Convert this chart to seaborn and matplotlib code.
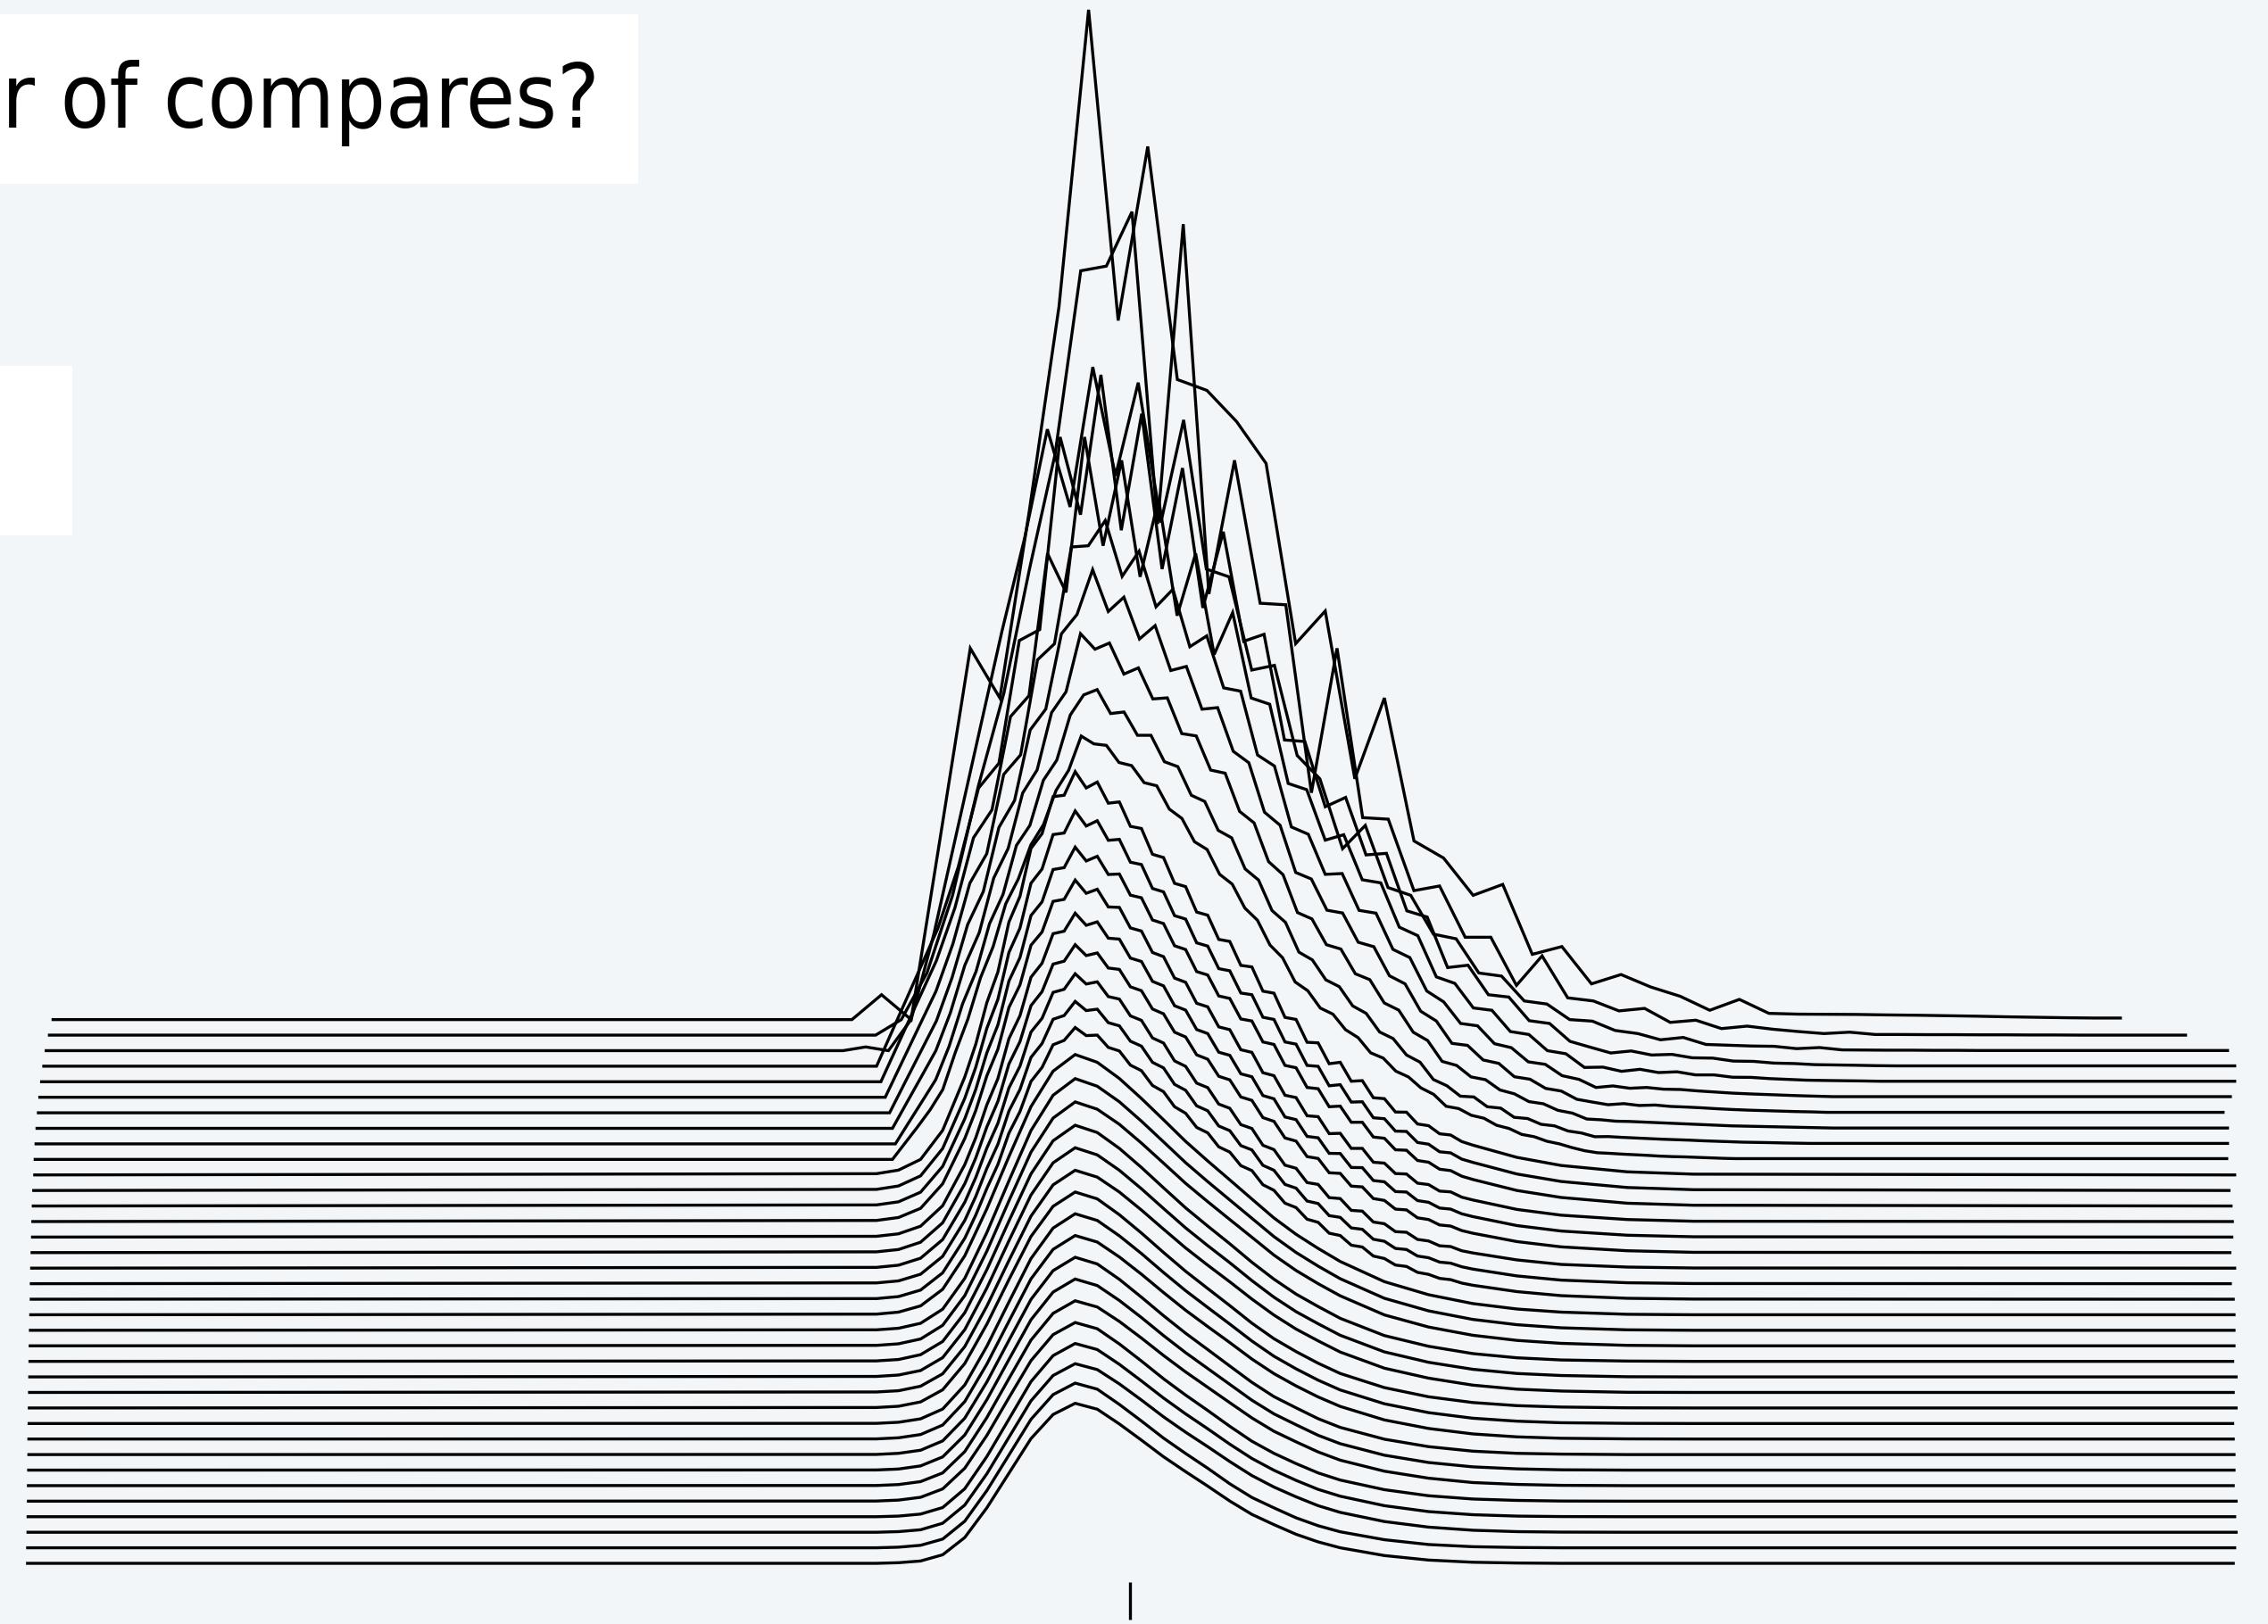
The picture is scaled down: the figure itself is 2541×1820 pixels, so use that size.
import numpy as np
import pandas as pd
import seaborn as sns
import matplotlib.pyplot as plt
from matplotlib.patches import Rectangle

# ---------------- data (x = compares / mean, heights in line-spacing units) ----------------
TITLE_TEXT = "r of compares?"
TICK_POS = [1.0]

LEFT_END = [0.0, 0.0001, 0.0004, 0.0005, 0.0008, 0.0008, 0.0010, 0.0012, 0.0012, 0.0014,
            0.0016, 0.0018, 0.0020, 0.0022, 0.0024, 0.0026, 0.0029, 0.0033, 0.0034, 0.0037,
            0.0041, 0.0045, 0.0048, 0.0052, 0.0056, 0.0065, 0.0069, 0.0077, 0.0086, 0.0098,
            0.0111, 0.0127, 0.0147, 0.0169, 0.0198, 0.0231]
RIGHT_END = [2.0000, 2.0013, 2.0026, 2.0013, 2.0026, 2.0000, 2.0007, 2.0007, 2.0000, 1.9995,
             2.0026, 2.0000, 2.0026, 1.9995, 2.0007, 2.0007, 2.0007, 2.0000, 1.9974, 2.0013,
             1.9969, 1.9987, 1.9992, 1.9980, 1.9961, 2.0013, 1.9941, 1.9948, 1.9948, 1.9908,
             1.9974, 2.0013, 2.0013, 1.9948, 1.9568, 1.8978]

# smooth lower curves (lines 0-16)
GRID_LOW = [0.77, 0.79, 0.81, 0.83, 0.85, 0.87, 0.89, 0.91, 0.93, 0.95, 0.97, 0.99, 1.01, 1.03,
            1.05, 1.07, 1.09, 1.11, 1.13, 1.15, 1.17, 1.19, 1.23, 1.27, 1.31, 1.35, 1.39, 1.45, 1.51]
L0 = [0, .04, .15, .55, 1.66, 3.57, 5.80, 8.03, 9.58, 10.3, 9.92, 8.97, 7.93, 6.86, 5.90, 4.97, 4.01, 3.15, 2.49, 1.87, 1.38, 1.00, .50, .21, .07, .02, 0, 0, 0]
L1 = [0, .04, .16, .56, 1.71, 3.68, 5.97, 8.27, 9.86, 10.6, 10.21, 9.23, 8.16, 7.06, 6.07, 5.12, 4.12, 3.24, 2.57, 1.93, 1.42, 1.03, .52, .21, .07, .02, 0, 0, 0]
L2 = [0, .04, .16, .58, 1.75, 3.76, 6.11, 8.46, 10.09, 10.85, 10.47, 9.55, 8.51, 7.43, 6.44, 5.51, 4.55, 3.65, 2.91, 2.28, 1.71, 1.28, .69, .33, .13, .04, .01, 0, 0]
L3 = [0, .04, .17, .59, 1.80, 3.87, 6.28, 8.70, 10.37, 11.15, 10.76, 9.81, 8.74, 7.64, 6.62, 5.66, 4.67, 3.75, 2.99, 2.34, 1.76, 1.32, .71, .33, .13, .04, .01, 0, 0]
L4 = [.01, .07, .25, .79, 2.12, 4.23, 6.66, 9.05, 10.72, 11.5, 11.10, 10.12, 9.02, 7.88, 6.83, 5.84, 4.82, 3.86, 3.08, 2.42, 1.82, 1.36, .74, .35, .14, .05, .01, 0, 0]
L5 = [.01, .07, .26, .82, 2.19, 4.38, 6.89, 9.37, 11.09, 11.9, 11.50, 10.57, 9.50, 8.38, 7.32, 6.33, 5.34, 4.36, 3.50, 2.82, 2.17, 1.64, .93, .48, .20, .08, .02, 0, 0]
L6 = [.01, .07, .27, .85, 2.26, 4.53, 7.12, 9.68, 11.46, 12.3, 11.88, 10.92, 9.82, 8.66, 7.56, 6.54, 5.52, 4.50, 3.62, 2.92, 2.24, 1.70, .96, .49, .21, .08, .02, 0, 0]
L7 = [.01, .08, .28, .88, 2.34, 4.67, 7.35, 9.99, 11.84, 12.7, 12.27, 11.28, 10.13, 8.94, 7.81, 6.76, 5.70, 4.65, 3.73, 3.01, 2.31, 1.75, .99, .51, .22, .08, .03, 0, 0]
L8 = [.01, .08, .29, .90, 2.41, 4.82, 7.58, 10.31, 12.21, 13.1, 12.68, 11.72, 10.61, 9.43, 8.29, 7.24, 6.21, 5.15, 4.21, 3.42, 2.71, 2.10, 1.23, .68, .33, .14, .05, .01, 0]
L9 = [.01, .08, .30, .93, 2.48, 4.97, 7.82, 10.62, 12.58, 13.5, 13.07, 12.08, 10.94, 9.72, 8.55, 7.47, 6.40, 5.31, 4.33, 3.52, 2.79, 2.16, 1.27, .70, .34, .15, .05, .01, 0]
L10 = [.03, .11, .39, 1.17, 2.86, 5.39, 8.26, 11.04, 12.98, 13.9, 13.46, 12.44, 11.26, 10.01, 8.80, 7.69, 6.59, 5.46, 4.46, 3.63, 2.88, 2.22, 1.31, .72, .35, .15, .06, .01, 0]
L11 = [.03, .11, .40, 1.20, 2.95, 5.55, 8.49, 11.35, 13.36, 14.3, 13.86, 12.90, 11.74, 10.51, 9.30, 8.19, 7.12, 6.01, 4.98, 4.08, 3.32, 2.60, 1.56, .92, .47, .21, .09, .01, 0]
L12 = [.03, .12, .41, 1.24, 3.04, 5.72, 8.76, 11.71, 13.78, 14.75, 14.29, 13.30, 12.11, 10.84, 9.59, 8.45, 7.35, 6.20, 5.13, 4.20, 3.42, 2.68, 1.61, .94, .49, .22, .09, .01, 0]
L13 = [.03, .12, .43, 1.28, 3.13, 5.90, 9.03, 12.07, 14.20, 15.2, 14.73, 13.71, 12.48, 11.17, 9.88, 8.71, 7.57, 6.38, 5.29, 4.33, 3.53, 2.77, 1.66, .97, .50, .23, .09, .02, 0]
L14 = [.03, .13, .44, 1.32, 3.23, 6.09, 9.33, 12.47, 14.66, 15.7, 15.23, 14.26, 13.05, 11.76, 10.46, 9.28, 8.13, 6.99, 5.84, 4.85, 4.00, 3.22, 1.99, 1.21, .68, .35, .16, .03, 0]
L15 = [.03, .13, .45, 1.36, 3.34, 6.29, 9.62, 12.86, 15.13, 16.2, 15.71, 14.71, 13.46, 12.13, 10.79, 9.57, 8.39, 7.21, 6.03, 5.01, 4.13, 3.32, 2.06, 1.25, .70, .36, .16, .03, 0]
L16 = [.04, .17, .57, 1.64, 3.79, 6.82, 10.18, 13.40, 15.68, 16.75, 16.25, 15.21, 13.92, 12.55, 11.16, 9.90, 8.68, 7.45, 6.23, 5.18, 4.27, 3.43, 2.13, 1.29, .72, .37, .17, .03, 0]
LOW_LINES = [L0, L1, L2, L3, L4, L5, L6, L7, L8, L9, L10, L11, L12, L13, L14, L15, L16]

# slightly ragged middle curves (lines 17-25)
GRID_FINE = [0.77, 0.79, 0.81, 0.83,
             0.85, 0.86, 0.87, 0.88, 0.89, 0.90, 0.91, 0.92, 0.93, 0.94,
             0.95, 0.96, 0.97, 0.98, 0.99, 1.00, 1.01, 1.02, 1.03, 1.04,
             1.05, 1.06, 1.07, 1.08, 1.09, 1.10, 1.11, 1.12, 1.13, 1.14,
             1.15, 1.16, 1.17, 1.18, 1.19, 1.20, 1.21, 1.22, 1.23, 1.24,
             1.25, 1.26, 1.27, 1.28, 1.29, 1.30, 1.31,
             1.35, 1.39, 1.45, 1.51]
F17 = [.04, .17, .59, 1.70, 3.92, 5.42, 7.13, 8.67, 10.69, 12.08, 14.02, 14.92, 16.38, 16.66, 17.49, 16.97, 17.00, 16.21, 15.98, 15.07, 14.71, 13.76, 13.36, 12.39, 11.97, 11.06, 10.71, 9.81, 9.47, 8.60, 8.28, 7.37, 7.01, 6.18, 5.90, 5.15, 4.95, 4.25, 4.10, 3.48, 3.36, 2.78, 2.62, 2.20, 2.11, 1.73, 1.60, 1.34, 1.26, 1.04, 0.90, .49, .23, .06, .01]
F18 = [.05, .18, .61, 1.76, 4.07, 5.62, 7.42, 8.97, 11.11, 12.50, 14.57, 15.46, 17.02, 17.26, 18.17, 17.58, 17.67, 16.80, 16.60, 15.61, 15.29, 14.25, 13.89, 12.83, 12.45, 11.45, 11.13, 10.15, 9.85, 8.89, 8.61, 7.62, 7.30, 6.39, 6.15, 5.32, 5.16, 4.38, 4.27, 3.59, 3.50, 2.86, 2.73, 2.27, 2.20, 1.78, 1.67, 1.39, 1.32, 1.09, 0.94, .50, .23, .06, .01]
F19 = [.05, .19, .64, 1.84, 4.24, 5.84, 7.73, 9.32, 11.60, 13.00, 15.20, 16.08, 17.75, 17.95, 18.95, 18.29, 18.43, 17.48, 17.32, 16.24, 15.95, 14.82, 14.49, 13.34, 12.99, 11.91, 11.62, 10.56, 10.29, 9.24, 8.99, 7.91, 7.63, 6.63, 6.43, 5.51, 5.39, 4.54, 4.48, 3.72, 3.67, 2.97, 2.86, 2.35, 2.31, 1.85, 1.75, 1.44, 1.39, 1.12, 0.98, .53, .24, .07, .01]
F20 = [.05, .20, .67, 1.92, 4.43, 6.10, 8.09, 9.73, 12.14, 13.58, 15.90, 16.80, 18.57, 18.76, 19.82, 19.12, 19.29, 18.32, 18.23, 17.11, 16.86, 15.68, 15.37, 14.19, 13.88, 12.73, 12.45, 11.35, 11.12, 10.02, 9.80, 8.69, 8.45, 7.38, 7.18, 6.18, 6.06, 5.14, 5.10, 4.28, 4.23, 3.48, 3.36, 2.80, 2.75, 2.24, 2.13, 1.78, 1.71, 1.42, 1.25, .71, .37, .12, .02]
F21 = [.05, .21, .70, 2.02, 4.66, 6.40, 8.51, 10.20, 12.77, 14.25, 16.73, 17.63, 19.53, 19.69, 20.85, 20.07, 20.29, 19.24, 19.18, 17.96, 17.74, 16.46, 16.17, 14.89, 14.61, 13.36, 13.10, 11.90, 11.70, 10.51, 10.32, 9.11, 8.90, 7.73, 7.56, 6.48, 6.39, 5.39, 5.38, 4.48, 4.47, 3.64, 3.56, 2.93, 2.90, 2.35, 2.24, 1.87, 1.80, 1.50, 1.32, .74, .39, .12, .02]
F22 = [.07, .26, .85, 2.43, 5.34, 7.15, 9.38, 11.09, 13.78, 15.23, 17.79, 18.64, 20.61, 20.74, 21.98, 21.13, 21.39, 20.25, 20.22, 18.90, 18.70, 17.32, 17.05, 15.67, 15.40, 14.05, 13.82, 12.53, 12.35, 11.06, 10.89, 9.58, 9.39, 8.13, 7.98, 6.81, 6.75, 5.66, 5.68, 4.71, 4.71, 3.82, 3.76, 3.09, 3.06, 2.47, 2.38, 1.96, 1.91, 1.57, 1.39, .78, .41, .13, .02]
F23 = [.07, .27, .89, 2.55, 5.61, 7.51, 9.86, 11.65, 14.48, 15.99, 18.70, 19.58, 21.66, 21.78, 23.10, 22.21, 22.51, 21.34, 21.37, 20.01, 19.84, 18.41, 18.18, 16.75, 16.51, 15.09, 14.87, 13.52, 13.36, 12.04, 11.91, 10.56, 10.40, 9.05, 8.90, 7.63, 7.55, 6.39, 6.43, 5.39, 5.39, 4.44, 4.36, 3.62, 3.59, 2.93, 2.82, 2.37, 2.28, 1.92, 1.71, 1.00, .55, .18, .05]
F24 = [.07, .29, .94, 2.70, 5.93, 7.94, 10.44, 12.30, 15.32, 16.89, 19.78, 20.69, 22.91, 23.01, 24.43, 23.46, 23.80, 22.54, 22.60, 21.13, 20.98, 19.44, 19.22, 17.69, 17.47, 15.94, 15.73, 14.28, 14.14, 12.71, 12.60, 11.15, 11.01, 9.56, 9.42, 8.05, 7.99, 6.74, 6.81, 5.69, 5.71, 4.68, 4.62, 3.82, 3.80, 3.09, 2.98, 2.49, 2.42, 2.02, 1.81, 1.06, .58, .19, .05]
F25 = [.08, .31, 1.00, 2.87, 6.30, 8.42, 11.09, 13.06, 16.28, 17.93, 21.02, 21.97, 24.35, 24.44, 25.96, 24.91, 25.29, 23.93, 24.01, 22.44, 22.30, 20.64, 20.43, 18.77, 18.56, 16.92, 16.72, 15.16, 15.03, 13.49, 13.39, 11.83, 11.70, 10.14, 10.01, 8.54, 8.50, 7.16, 7.25, 6.03, 6.07, 4.97, 4.91, 4.05, 4.04, 3.28, 3.17, 2.65, 2.57, 2.15, 1.92, 1.13, .61, .20, .05]
FINE_LINES = [F17, F18, F19, F20, F21, F22, F23, F24, F25]

# upper (jagged) lines 26-35: first bin position, bin width, bin heights
UP_START = [0.78455, 0.78717, 0.78455, 0.78193, 0.77800, 0.77407, 0.77014, 0.73975, 0.76935, 0.74787]
UP_STEP = [0.011395, 0.012181, 0.013098, 0.014145, 0.015324, 0.016765, 0.018468, 0.020563, 0.023209, 0.026785]
U26 = [0, 1.05, 2.1, 3.2, 4.5, 6.9, 9.05, 11.7, 13.7, 16.45, 18.05, 20.25, 21.55, 23.75, 25.05, 27.25, 26.75, 26.65, 25.55, 25.35, 24.25, 24.05, 22.55, 21.95, 20.45, 19.95, 18.35, 17.72, 16.18, 15.4, 13.8, 12.98, 11.42, 10.86, 9.74, 9.35, 8.35, 7.84, 6.86, 6.52, 5.68, 5.31, 4.6, 4.19, 3.42, 3.27, 2.84, 2.65, 2.2, 1.99, 1.61, 1.46, 1.17, 1.0, 0.76, 0.56, 0.43, 0.39, 0.34, 0.3, 0.26, 0.21, 0.18, 0.16, 0.13, 0.1, 0.07, 0.05]
U27 = [0, 1.38, 2.75, 4.13, 6.29, 9.02, 11.1, 14.17, 16.05, 19.21, 20.5, 23.4, 24.7, 27.6, 28.9, 29.24, 27.7, 27.8, 26.3, 26.3, 24.6, 24.28, 22.44, 22.04, 20.18, 19.7, 17.7, 16.98, 15.02, 14.26, 12.34, 11.84, 10.56, 10.12, 8.88, 8.4, 7.2, 6.78, 5.72, 5.26, 4.14, 3.74, 3.07, 3.02, 2.39, 2.3, 1.71, 1.63, 1.26, 1.16, 0.83, 0.7, 0.46, 0.47, 0.42, 0.38, 0.34, 0.3, 0.27, 0.24, 0.2, 0.17, 0.14, 0.11, 0.095, 0.08, 0.06, 0.045, 0.03]
U28 = [0, 1.67, 3.33, 5.0, 7.43, 10.49, 12.6, 16.11, 18.02, 21.58, 23.07, 26.76, 28.1, 31.84, 30.84, 31.24, 29.24, 29.64, 27.64, 27.71, 25.41, 25.26, 23.06, 22.86, 20.4, 19.66, 17.17, 16.33, 13.89, 13.48, 11.82, 11.54, 9.95, 9.57, 8.07, 7.61, 6.19, 5.65, 4.31, 4.05, 3.31, 3.13, 2.47, 2.22, 1.72, 1.58, 1.16, 0.98, 0.6, 0.55, 0.46, 0.44, 0.4, 0.36, 0.32, 0.28, 0.24, 0.2, 0.16, 0.14, 0.12, 0.1, 0.08, 0.06, 0.04, 0.02]
U29 = [0, 1.98, 3.95, 5.92, 8.7, 12.12, 14.24, 18.37, 20.1, 24.64, 25.99, 30.83, 32.08, 34.96, 32.27, 33.19, 30.5, 31.36, 28.47, 28.73, 25.98, 26.08, 23.27, 22.53, 19.35, 18.51, 15.47, 15.05, 13.04, 12.86, 10.98, 10.69, 8.82, 8.3, 6.54, 5.91, 4.47, 4.34, 3.4, 3.18, 2.32, 2.16, 1.57, 1.4, 0.87, 0.69, 0.52, 0.59, 0.47, 0.5, 0.41, 0.37, 0.32, 0.26, 0.21, 0.17, 0.14, 0.11, 0.08, 0.06, 0.03]
U30 = [0, 2.28, 4.56, 6.83, 9.88, 13.78, 15.68, 20.78, 22.04, 28.16, 29.19, 35.42, 35.5, 37.12, 33.53, 35.15, 31.57, 32.7, 29.0, 29.7, 26.35, 26.14, 22.03, 21.32, 17.4, 16.93, 14.35, 14.4, 12.03, 11.85, 9.52, 8.99, 6.84, 6.14, 4.75, 4.6, 3.45, 3.19, 2.28, 2.12, 1.39, 1.15, 0.63, 0.73, 0.58, 0.63, 0.52, 0.5, 0.41, 0.34, 0.27, 0.22, 0.18, 0.14, 0.1, 0.07, 0.04]
U31 = [0, 2.6, 5.2, 7.8, 11.2, 15.7, 17.5, 23.5, 24.85, 34.0, 31.5, 41.5, 34.5, 40.0, 32.5, 37.5, 30.0, 34.0, 27.5, 30.2, 24.7, 24.3, 19.2, 18.8, 15.55, 15.9, 13.0, 12.8, 9.95, 9.4, 6.75, 6.33, 4.75, 4.6, 3.23, 3.04, 2.0, 1.8, 0.92, 0.94, 0.67, 0.8, 0.59, 0.64, 0.44, 0.44, 0.29, 0.28, 0.2, 0.15, 0.1, 0.08, 0.065, 0.05, 0.03]
U32 = [0, 2.95, 5.9, 8.85, 12.8, 17.9, 19.5, 27.4, 28.1, 40.5, 35.5, 44.5, 34.5, 42.0, 32.0, 38.5, 29.5, 34.4, 27.35, 27.8, 21.0, 20.9, 16.7, 17.3, 13.6, 13.7, 10.0, 9.6, 6.35, 6.5, 4.6, 4.45, 2.93, 2.75, 1.6, 1.22, 0.85, 0.98, 0.72, 0.76, 0.54, 0.52, 0.33, 0.31, 0.2, 0.17, 0.1, 0.08, 0.06, 0.035, 0.02]
U33 = [0, 0.24, 0, 2.0, 7.5, 14.0, 20.5, 27.0, 33.0, 40.0, 35.0, 44.0, 37.0, 43.0, 34.0, 40.6, 31.0, 30.5, 24.5, 24.8, 19.0, 17.5, 13.0, 14.5, 10.5, 10.0, 7.5, 7.2, 5.0, 4.8, 3.2, 3.0, 2.0, 1.9, 1.3, 1.1, 0.7, 0.85, 0.4, 0.35, 0.3, 0.28, 0.13, 0.2, 0.05, 0.04, 0.03, 0.03, 0.02, 0.02, 0.01, 0.01]
U34 = [0, 1.0, 4.0, 9.0, 16.0, 22.0, 30.0, 37.4, 49.2, 49.5, 53.0, 32.9, 52.2, 28.4, 37.0, 27.8, 27.7, 15.6, 24.9, 14.0, 13.9, 9.3, 9.6, 6.3, 6.3, 3.2, 5.1, 2.4, 2.2, 1.56, 1.72, 0.82, 0.96, 0.42, 0.58, 0.38, 0.23, 0.1, 0.19, 0.04, 0.04, 0.03, 0.03, 0.02, 0.02, 0.01, 0.01, 0]
U35 = [0, 1.6, 0, 11.9, 23.9, 20.7, 32.8, 45.9, 65.0, 45.0, 56.2, 41.2, 40.5, 38.5, 35.8, 24.2, 26.3, 15.5, 20.7, 11.5, 10.4, 8.0, 8.7, 4.2, 4.7, 2.3, 2.9, 2.1, 1.5, 0.6, 1.3, 0.4, 0.35, 0.34, 0.33, 0.3, 0.28, 0.25, 0.22, 0.18, 0.15, 0.12, 0.1]
UP_LINES = [U26, U27, U28, U29, U30, U31, U32, U33, U34, U35]

# ---------------- build long table ----------------
rows = []
n_low, n_fine = len(LOW_LINES), len(FINE_LINES)
for i in range(n_low + n_fine + len(UP_LINES)):
    if i < n_low:
        h = LOW_LINES[i]
        xs = [LEFT_END[i]] + GRID_LOW[:len(h)] + [RIGHT_END[i]]
        hs = [0.0] + list(h) + [0.0]
    elif i < n_low + n_fine:
        h = FINE_LINES[i - n_low]
        xs = [LEFT_END[i]] + GRID_FINE[:len(h)] + [RIGHT_END[i]]
        hs = [0.0] + list(h) + [0.0]
    else:
        j = i - n_low - n_fine
        h = UP_LINES[j]
        xs = [LEFT_END[i]] + [UP_START[j] + k * UP_STEP[j] for k in range(len(h))] + [RIGHT_END[i]]
        hs = [0.0] + list(h) + [h[-1]]
    for order, (xv, hv) in enumerate(zip(xs, hs)):
        rows.append({"line": i, "order": order, "x": xv, "y": i + hv})
df = pd.DataFrame(rows)

# ---------------- figure ----------------
BG = "#f2f6f9"
W, H = 2541, 1820
fig = plt.figure(figsize=(W / 100, H / 100), dpi=100, facecolor=BG)
ax = fig.add_axes([0, 47 / H, 1, 1 - 47 / H])
ax.set_facecolor(BG)

sns.lineplot(data=df, x="x", y="y", units="line", estimator=None, sort=False,
             color="black", linewidth=2.4, legend=False, ax=ax)
for ln in ax.lines:
    ln.set_solid_capstyle("butt")
    ln.set_solid_joinstyle("miter")

ax.set_xlim(-0.02358, 2.0301)
ax.set_ylim(-1.206, 100.63)
for s in ax.spines.values():
    s.set_visible(False)
ax.set_xticks(TICK_POS)
ax.set_xticklabels([""])
ax.set_yticks([])
ax.tick_params(axis="x", length=30.2, width=2.4, color="black", direction="out")
ax.set_xlabel("")
ax.set_ylabel("")

# white title boxes (cropped slide)
fig.add_artist(Rectangle((0, 1 - 206 / H), 715 / W, 190 / H, transform=fig.transFigure,
                         facecolor="white", edgecolor="none", zorder=0.5))
fig.add_artist(Rectangle((0, 1 - 600 / H), 81 / W, 190 / H, transform=fig.transFigure,
                         facecolor="white", edgecolor="none", zorder=0.5))
fig.text(2 / W, 1 - 143 / H, TITLE_TEXT, fontsize=72, ha="left", va="baseline",
         color="black", family=["DejaVu Sans"], fontstretch="condensed", zorder=2)

fig.savefig("out.png", dpi=100, facecolor=BG)
